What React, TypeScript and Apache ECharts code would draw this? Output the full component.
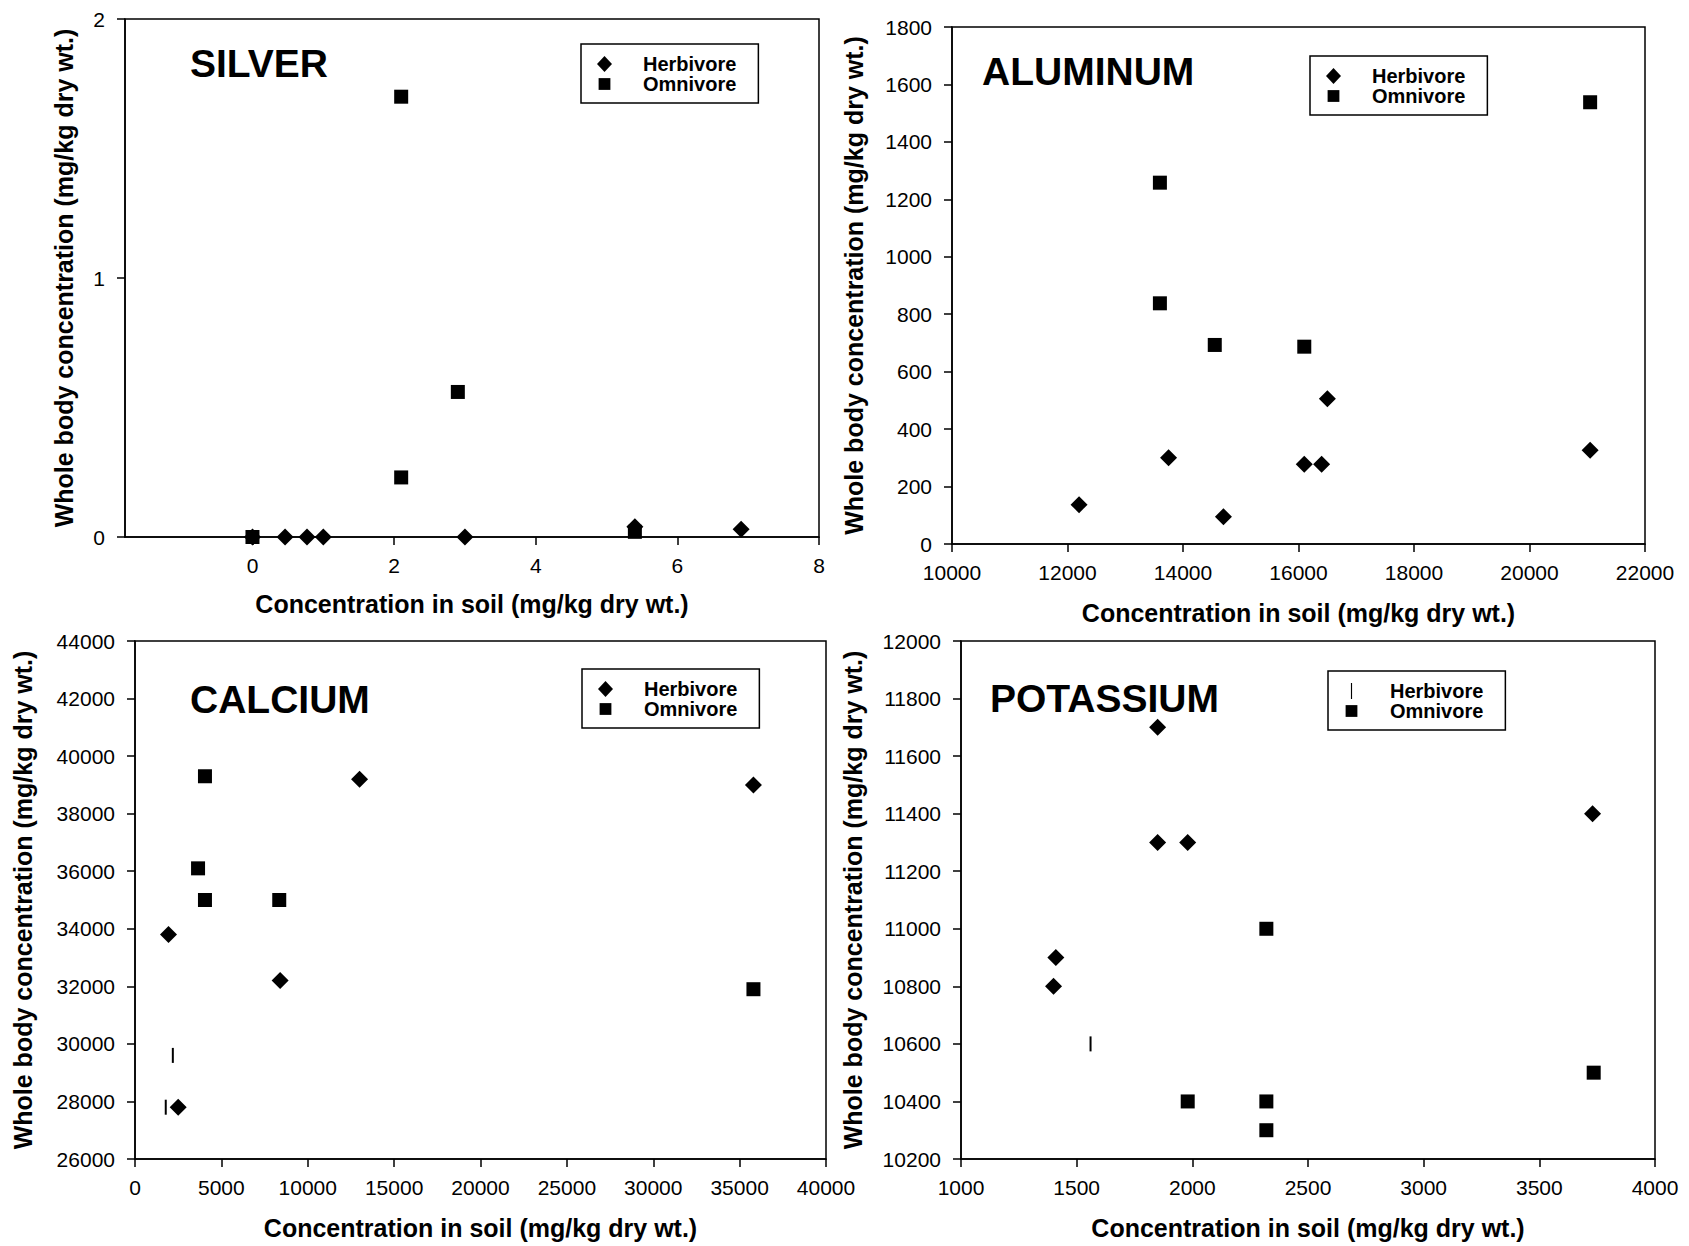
import React, { useEffect, useRef } from "react";
import * as echarts from "echarts";

// ---------------- DATA ----------------
const X_NAME = "Concentration in soil (mg/kg dry wt.)";
const Y_NAME = "Whole body concentration (mg/kg dry wt.)";
const panelTitles = ["SILVER", "ALUMINUM", "CALCIUM", "POTASSIUM"];
const seriesNames = ["Herbivore", "Omnivore"];

// Silver
const silverXTicks = [0, 2, 4, 6, 8];
const silverHerbivore = [[0, 0], [0.46, 0], [0.77, 0], [1.0, 0], [3.0, 0], [5.4, 0.04], [6.9, 0.03]];
const silverOmnivore = [[0, 0], [2.1, 1.7], [2.9, 0.56], [2.1, 0.23], [5.4, 0.02]];

// Aluminum
const aluminumHerbivore = [[12200, 137], [13750, 300], [14700, 95], [16100, 278], [16400, 278], [16500, 506], [21050, 326]];
const aluminumOmnivore = [[13600, 1258], [13600, 838], [14550, 693], [16100, 687], [21050, 1538]];

// Calcium
const calciumHerbivore = [[1940, 33800], [13000, 39200], [35800, 39000], [8400, 32200], [2500, 27800]];
const calciumHerbivoreBar = [[2190, 29600], [1780, 27800]];
const calciumOmnivore = [[4050, 39300], [3650, 36100], [4050, 35000], [8350, 35000], [35800, 31900]];

// Potassium
const potassiumHerbivore = [[1850, 11700], [1850, 11300], [1980, 11300], [3730, 11400], [1410, 10900], [1400, 10800]];
const potassiumHerbivoreBar = [[1560, 10600]];
const potassiumOmnivore = [[2320, 11000], [1980, 10400], [2320, 10400], [2320, 10300], [3735, 10500]];

// ---------------- STYLE / LAYOUT ----------------
const FONT = "'Liberation Sans', Arial, Helvetica, sans-serif";
const BAR_SYMBOL = "path://M0,0H1V14H0Z";
const SQUARE_ICON = "path://M0,0M14,14M1.5,1.5H12.5V12.5H1.5Z";

const grids = [
  { left: 125, top: 19, width: 694, height: 518 },
  { left: 952, top: 27, width: 693, height: 517 },
  { left: 135, top: 641, width: 691, height: 518 },
  { left: 961, top: 641, width: 694, height: 518 },
];
const titlePos = [
  { x: 190, y: 63.5 },
  { x: 982, y: 71 },
  { x: 190, y: 699 },
  { x: 990, y: 698 },
];
const legendPos = [
  { left: 581, top: 44 },
  { left: 1310, top: 56 },
  { left: 582, top: 669 },
  { left: 1328, top: 671 },
];
const yNameGap = [49, 86, 100, 96];
const xNameGap = [54, 56, 56, 56];

const axisLine = { show: true, onZero: false, lineStyle: { color: "#000", width: 1.5 } };
const axisTick = { show: true, inside: false, length: 8, lineStyle: { color: "#000", width: 1.5 } };
const plainNumber = (v: number) => String(v);
const labelStyle = { color: "#000", fontSize: 21, fontFamily: FONT, formatter: plainNumber };
const nameStyle = { color: "#000", fontSize: 25, fontWeight: "bold", fontFamily: FONT };

function makeX(i: number, min: number, max: number, interval?: number, custom?: number[]) {
  const ax: any = {
    type: "value",
    gridIndex: i,
    min,
    max,
    name: X_NAME,
    nameLocation: "middle",
    nameGap: xNameGap[i],
    nameTextStyle: nameStyle,
    axisLine,
    axisTick: custom ? { ...axisTick, customValues: custom } : axisTick,
    axisLabel: custom ? { ...labelStyle, margin: 18, customValues: custom } : { ...labelStyle, margin: 18 },
    splitLine: { show: false },
  };
  if (interval !== undefined) ax.interval = interval;
  return ax;
}

function makeY(i: number, min: number, max: number, interval: number) {
  return {
    type: "value",
    gridIndex: i,
    min,
    max,
    interval,
    name: Y_NAME,
    nameLocation: "middle",
    nameRotate: 90,
    nameGap: yNameGap[i],
    nameTextStyle: nameStyle,
    axisLine,
    axisTick,
    axisLabel: { ...labelStyle, margin: 20 },
    splitLine: { show: false },
  };
}

function makeLegend(i: number, herbIcon: string) {
  return {
    orient: "vertical",
    left: legendPos[i].left,
    top: legendPos[i].top,
    padding: [10, 22, 9, 16],
    itemGap: 0,
    itemWidth: 15,
    itemHeight: 16,
    borderColor: "#000",
    borderWidth: 1.5,
    backgroundColor: "#fff",
    selectedMode: false,
    textStyle: {
      color: "#000",
      fontSize: 20,
      lineHeight: 20,
      fontWeight: "bold",
      fontFamily: FONT,
      padding: [0, 0, 0, 26],
    },
    data: [
      { name: seriesNames[0], icon: herbIcon },
      { name: seriesNames[1], icon: SQUARE_ICON },
    ],
  };
}

function scatter(name: string, i: number, data: number[][], symbol: string, size: any) {
  return {
    type: "scatter",
    name,
    xAxisIndex: i,
    yAxisIndex: i,
    data,
    symbol,
    symbolSize: size,
    clip: false,
    itemStyle: { color: "#000", opacity: 1 },
    emphasis: { disabled: true },
  };
}

const DIAMOND_SIZE = [17, 17];
const SQUARE_SIZE = 14;
const BAR_SIZE = [2, 15];

export default function App() {
  const ref = useRef<HTMLDivElement>(null);

  useEffect(() => {
    if (!ref.current) return;
    const chart = echarts.init(ref.current, undefined, { renderer: "svg" });
    const option: any = {
      animation: false,
      backgroundColor: "#fff",
      textStyle: { fontFamily: FONT },
      grid: grids.map((g) => ({
        ...g,
        show: true,
        borderColor: "#000",
        borderWidth: 1.5,
        backgroundColor: "transparent",
        containLabel: false,
      })),
      xAxis: [
        makeX(0, -1.8, 8, undefined, silverXTicks),
        makeX(1, 10000, 22000, 2000),
        makeX(2, 0, 40000, 5000),
        makeX(3, 1000, 4000, 500),
      ],
      yAxis: [
        makeY(0, 0, 2, 1),
        makeY(1, 0, 1800, 200),
        makeY(2, 26000, 44000, 2000),
        makeY(3, 10200, 12000, 200),
      ],
      legend: [
        makeLegend(0, "diamond"),
        makeLegend(1, "diamond"),
        makeLegend(2, "diamond"),
        makeLegend(3, BAR_SYMBOL),
      ],
      graphic: panelTitles.map((t, i) => ({
        type: "text",
        x: titlePos[i].x,
        y: titlePos[i].y,
        z: 100,
        style: {
          text: t,
          fill: "#000",
          fontSize: 39,
          fontWeight: "bold",
          fontFamily: FONT,
          align: "left",
          verticalAlign: "middle",
        },
      })),
      series: [
        scatter("Omnivore", 0, silverOmnivore, "rect", SQUARE_SIZE),
        scatter("Herbivore", 0, silverHerbivore, "diamond", DIAMOND_SIZE),
        scatter("Herbivore", 1, aluminumHerbivore, "diamond", DIAMOND_SIZE),
        scatter("Omnivore", 1, aluminumOmnivore, "rect", SQUARE_SIZE),
        scatter("Herbivore", 2, calciumHerbivore, "diamond", DIAMOND_SIZE),
        scatter("Herbivore", 2, calciumHerbivoreBar, BAR_SYMBOL, BAR_SIZE),
        scatter("Omnivore", 2, calciumOmnivore, "rect", SQUARE_SIZE),
        scatter("Herbivore", 3, potassiumHerbivore, "diamond", DIAMOND_SIZE),
        scatter("Herbivore", 3, potassiumHerbivoreBar, BAR_SYMBOL, BAR_SIZE),
        scatter("Omnivore", 3, potassiumOmnivore, "rect", SQUARE_SIZE),
      ],
    };
    chart.setOption(option);
    return () => chart.dispose();
  }, []);

  return (
    <div
      ref={ref}
      style={{ position: "absolute", left: 0, top: 0, width: 1689, height: 1246, background: "#fff" }}
    />
  );
}
